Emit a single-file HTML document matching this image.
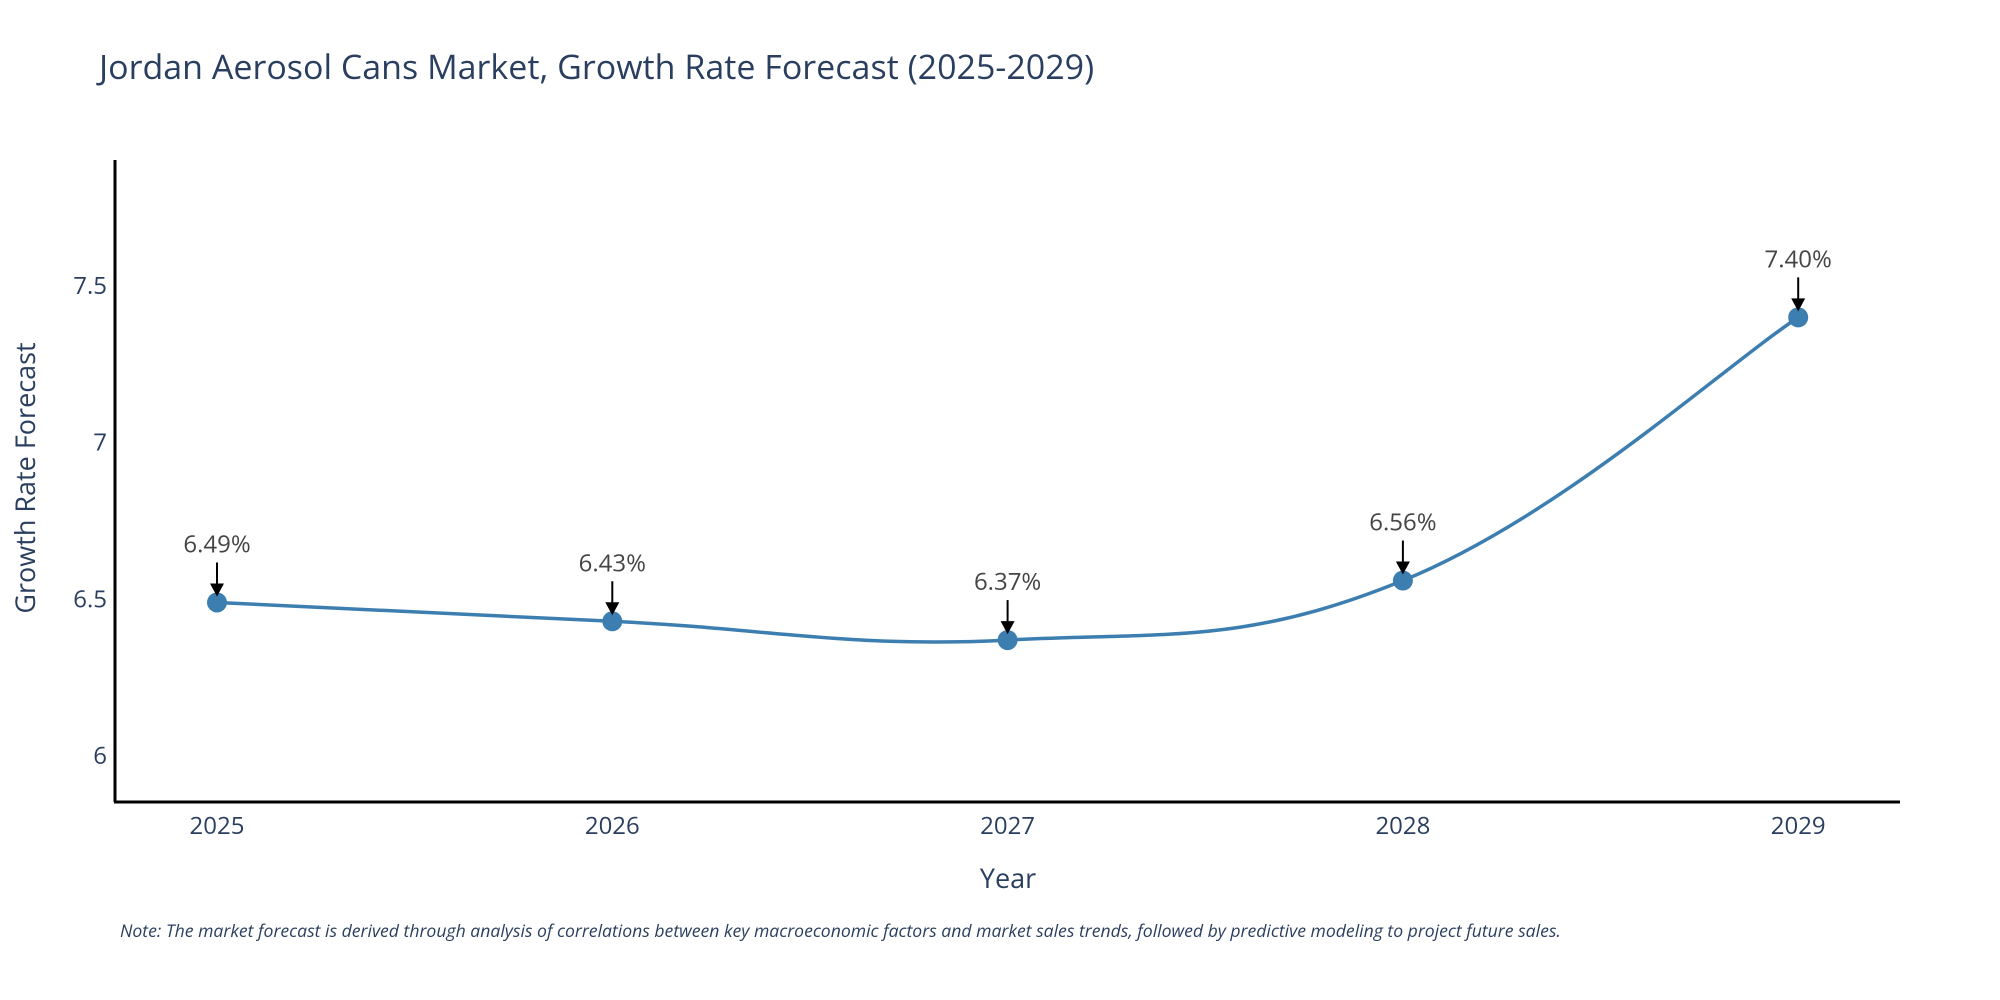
<!DOCTYPE html>
<html><head><meta charset="utf-8"><style>
body{margin:0;background:#fff;}
svg{display:block;font-family:"Open Sans","Liberation Sans",sans-serif;}
</style></head><body>
<svg id="chart" width="2000" height="1000" viewBox="0 0 2000 1000" xmlns="http://www.w3.org/2000/svg">
<rect width="2000" height="1000" fill="#fff"/>
<text x="99" y="79" font-size="34" fill="#2a3f5f">Jordan Aerosol Cans Market, Growth Rate Forecast (2025-2029)</text>
<g id="yticks"></g>
<g id="xticks"></g>
<path id="line" fill="none" stroke="#3d7eb0" stroke-width="3.5"/>
<g id="marks"></g>
<g id="annos"></g>
<line x1="115" y1="160" x2="115" y2="802" stroke="#000" stroke-width="3"/>
<line x1="114" y1="802" x2="1900" y2="802" stroke="#000" stroke-width="3"/>
<text x="1008" y="888" font-size="27" fill="#2a3f5f" text-anchor="middle">Year</text>
<text transform="translate(35,478) rotate(-90)" font-size="27" fill="#2a3f5f" text-anchor="middle">Growth Rate Forecast</text>
<text x="120" y="937" font-size="17.6" font-style="italic" fill="#2a3f5f">Note: The market forecast is derived through analysis of correlations between key macroeconomic factors and market sales trends, followed by predictive modeling to project future sales.</text>
</svg>
<script>
const years = [2025, 2026, 2027, 2028, 2029];
const values = [6.49, 6.43, 6.37, 6.56, 7.40];
const labels = ["6.49%", "6.43%", "6.37%", "6.56%", "7.40%"];
const yTicks = [6, 6.5, 7, 7.5];
const yTickLabels = ["6", "6.5", "7", "7.5"];
const NS = "http://www.w3.org/2000/svg";
function xs(v){ return 217 + (v - 2025) * 395.3; }
function ys(v){ return 756 - (v - 6) * 313.3; }
function mk(tag, attrs, parent){ const e = document.createElementNS(NS, tag); for (const k in attrs) e.setAttribute(k, attrs[k]); parent.appendChild(e); return e; }
const yt = document.getElementById('yticks');
yTicks.forEach((t, i) => {
  const e = mk('text', {x: 107, y: ys(t) + 8, 'font-size': 24, fill: '#2a3f5f', 'text-anchor': 'end'}, yt);
  
  
  e.textContent = yTickLabels[i];
});
const xt = document.getElementById('xticks');
years.forEach(y => {
  const e = mk('text', {x: xs(y), y: 834, 'font-size': 24, fill: '#2a3f5f', 'text-anchor': 'middle'}, xt);
  
  
  e.textContent = y;
});
const pts = years.map((y, i) => [xs(y), ys(values[i])]);
let d = 'M' + pts[0][0] + ',' + pts[0][1];
const tension = 0.2;
for (let i = 0; i < pts.length - 1; i++) {
  const p0 = pts[Math.max(0, i - 1)], p1 = pts[i], p2 = pts[i + 1], p3 = pts[Math.min(pts.length - 1, i + 2)];
  const c1 = [p1[0] + (p2[0] - p0[0]) * tension, p1[1] + (p2[1] - p0[1]) * tension];
  const c2 = [p2[0] - (p3[0] - p1[0]) * tension, p2[1] - (p3[1] - p1[1]) * tension];
  d += ' C' + c1.join(',') + ' ' + c2.join(',') + ' ' + p2.join(',');
}
document.getElementById('line').setAttribute('d', d);
const mg = document.getElementById('marks');
const ag = document.getElementById('annos');
pts.forEach((p, i) => {
  const c = mk('circle', {cx: p[0], cy: p[1], r: 10, fill: '#3d7eb0'}, mg);
  
  
  const l = mk('line', {x1: p[0], y1: p[1] - 40, x2: p[0], y2: p[1] - 16, stroke: '#000', 'stroke-width': 2}, ag);
  
  
  const h = mk('polygon', {points: (p[0]-7)+','+(p[1]-19)+' '+(p[0]+7)+','+(p[1]-19)+' '+p[0]+','+(p[1]-6), fill: '#000'}, ag);
  
  
  const t = mk('text', {x: p[0], y: p[1] - 50, 'font-size': 24, fill: '#444', 'text-anchor': 'middle'}, ag);
  
  
  t.textContent = labels[i];
});
</script>
</body></html>
